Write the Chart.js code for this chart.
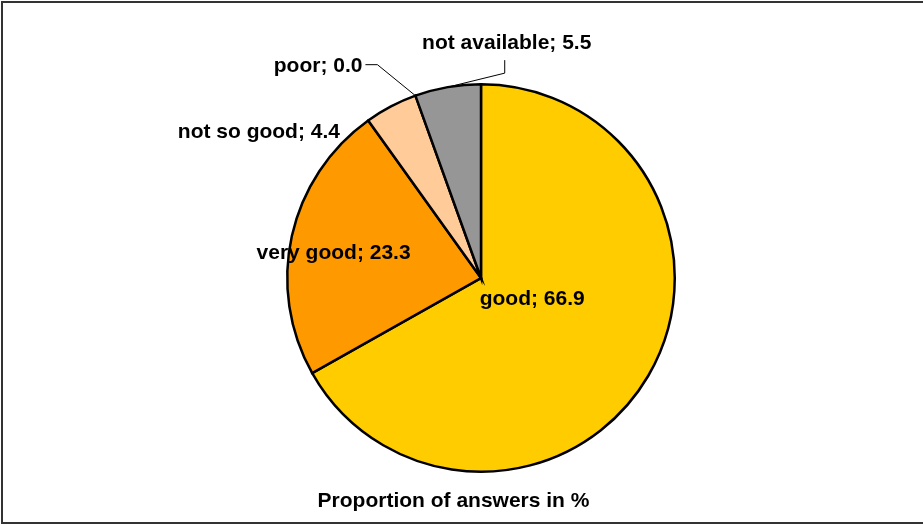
<!DOCTYPE html>
<html>
<head>
<meta charset="utf-8">
<title>Proportion of answers</title>
<script src="https://cdn.jsdelivr.net/npm/chart.js@4/dist/chart.umd.min.js"></script>
<style>
    html, body { margin: 0; padding: 0; background: #fff; }
    #wrap { width: 923px; height: 525px; position: relative; }
</style>
</head>
<body>
<div id="wrap"><canvas id="pieChart" width="923" height="525"></canvas></div>
<script>
// Data
const categories = ['good', 'very good', 'not so good', 'poor', 'not available'];
const shares = [66.9, 23.3, 4.4, 0.0, 5.5];
const sliceColors = ['#FFCC00', '#FF9900', '#FFCC99', '#FF6600', '#969696'];
const chartTitle = 'Proportion of answers in %';

// Label placement per slice: radius fraction of anchor, pixel offsets, alignment, leader line
const labelStyle = [
    { r: 0.3, dx: 1, dy: -2, align: 'center' },
    { r: 0.7, dx: -15, dy: 10, align: 'center' },
    { r: 1.0, dx: -51, dy: 32, align: 'right' },
    { r: 1.0, leader: [[-38, -31], [-12, 0]], dx: -3, dy: 7, align: 'right' },
    { r: 1.0, leader: [[57, -14], [0, -13]], dx: 2, dy: -11, align: 'center' }
];

const labelFont = 'bold 21px "Liberation Sans", Arial, sans-serif';

// Draws "name; value" labels, the leader lines and the caption under the pie
const pieLabels = {
    id: 'pieLabels',
    afterDatasetsDraw(chart) {
        const ctx = chart.ctx;
        const arcs = chart.getDatasetMeta(0).data;
        ctx.save();
        ctx.font = labelFont;
        ctx.fillStyle = '#000';
        ctx.strokeStyle = '#000';
        ctx.lineWidth = 1;
        ctx.textBaseline = 'alphabetic';
        arcs.forEach((arc, i) => {
            const p = arc.getProps(['x', 'y', 'startAngle', 'endAngle', 'outerRadius'], true);
            const mid = (p.startAngle + p.endAngle) / 2;
            const st = labelStyle[i];
            let x = p.x + Math.cos(mid) * p.outerRadius * st.r;
            let y = p.y + Math.sin(mid) * p.outerRadius * st.r;
            if (st.leader) {
                ctx.beginPath();
                ctx.moveTo(x, y);
                st.leader.forEach(seg => {
                    x += seg[0];
                    y += seg[1];
                    ctx.lineTo(x, y);
                });
                ctx.stroke();
            }
            ctx.textAlign = st.align;
            ctx.fillText(categories[i] + '; ' + shares[i].toFixed(1), x + st.dx, y + st.dy);
        });

        // caption
        ctx.textAlign = 'center';
        ctx.fillText(chartTitle, chart.width / 2 - 8, 507);
        ctx.restore();
    }
};

// Frame round the chart (top, left and bottom edges)
const frame = {
    id: 'frame',
    afterDraw(chart) {
        const ctx = chart.ctx;
        ctx.save();
        ctx.strokeStyle = '#333';
        ctx.lineWidth = 2;
        ctx.beginPath();
        ctx.moveTo(923, 2);
        ctx.lineTo(2, 2);
        ctx.lineTo(2, 523);
        ctx.lineTo(923, 523);
        ctx.stroke();
        ctx.restore();
    }
};

const ctx = document.getElementById('pieChart').getContext('2d');
const pieChart = new Chart(ctx, {
    type: 'pie',
    data: {
        labels: categories,
        datasets: [{
            data: shares,
            backgroundColor: sliceColors,
            borderColor: '#000',
            borderWidth: 2.5,
            borderJoinStyle: 'miter',
            hoverOffset: 0
        }]
    },
    options: {
        responsive: false,
        animation: false,
        layout: {
            padding: { top: 68, left: 286, right: 247, bottom: 37 }
        },
        plugins: {
            legend: { display: false },
            tooltip: { enabled: false },
            title: { display: false }
        }
    },
    plugins: [pieLabels, frame]
});
</script>
</body>
</html>
